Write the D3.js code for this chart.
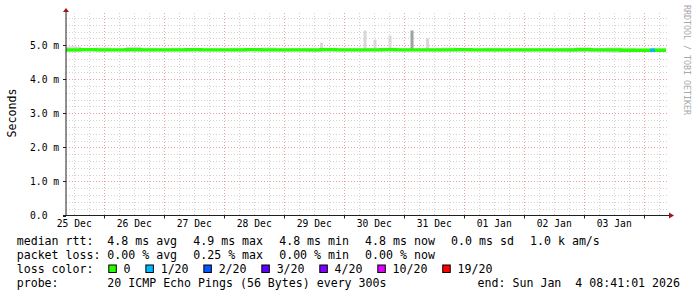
<!DOCTYPE html>
<html>
<head>
<meta charset="utf-8">
<script src="https://cdn.jsdelivr.net/npm/d3@7"></script>
<style>
  body { margin: 0; background: #fff; }
  svg text { font-family: "DejaVu Sans Mono", monospace; white-space: pre; }
</style>
</head>
<body>
<script>
// Time range of the graph (UTC)
var startTime = "2025-12-25T08:41:01Z";
var endTime = "2026-01-04T08:41:01Z";

// Median rtt in ms, one value per 6 hour step from the start
var medianMs = [4.86, 4.87, 4.86, 4.86, 4.87, 4.86, 4.86, 4.86, 4.87, 4.86,
                4.86, 4.86, 4.87, 4.86, 4.86, 4.86, 4.86, 4.87, 4.86, 4.86,
                4.86, 4.87, 4.86, 4.86, 4.86, 4.86, 4.87, 4.86, 4.86, 4.86,
                4.86, 4.86, 4.86, 4.86, 4.87, 4.86, 4.86, 4.85, 4.85, 4.85];

// Smoke (spread of the 20 pings), highest and lowest ms per step
var smokeHiMs = [4.96, 4.91, 4.93, 4.90, 4.95, 4.92, 4.91, 4.92, 4.90, 4.91,
                 4.90, 4.92, 4.91, 4.93, 4.90, 4.91, 4.90, 4.92, 4.91, 4.90,
                 4.91, 4.92, 4.91, 4.90, 4.91, 4.93, 4.91, 4.90, 4.92, 4.90,
                 4.91, 4.90, 4.90, 4.92, 4.94, 4.91, 4.93, 4.92, 4.90, 4.92];
var smokeLoMs = [4.80, 4.82, 4.81, 4.82, 4.80, 4.81, 4.82, 4.82, 4.81, 4.82,
                 4.82, 4.81, 4.82, 4.82, 4.81, 4.82, 4.80, 4.81, 4.82, 4.81,
                 4.82, 4.81, 4.82, 4.82, 4.81, 4.82, 4.81, 4.82, 4.81, 4.82,
                 4.81, 4.82, 4.81, 4.79, 4.80, 4.79, 4.78, 4.79, 4.80, 4.81];

// Single tall smoke spikes
var spikeTimes = ["2025-12-29T14:17:00Z", "2025-12-30T07:41:00Z", "2025-12-30T11:41:00Z",
                  "2025-12-30T17:41:00Z", "2025-12-31T02:29:00Z", "2025-12-31T08:41:00Z"];
var spikeTopMs = [5.07, 5.43, 5.16, 5.28, 5.43, 5.20];
var spikePings = [1, 1, 1, 1, 4, 1];

// Packet loss events drawn on the median line
var lossStart = ["2026-01-04T02:17:00Z"];
var lossEnd = ["2026-01-04T04:17:00Z"];
var lossPings = [1];

// Loss colour classes
var lossLabels = ["0", "1/20", "2/20", "3/20", "4/20", "10/20", "19/20"];
var lossLimits = [0, 1, 2, 3, 4, 10, 19];
var lossColors = ["#26ff00", "#00b8ff", "#0059ff", "#5e00ff", "#7e00ff", "#dd00ff", "#ff0000"];

// Axis ticks
var yTicks = [0, 1, 2, 3, 4, 5];
var yTickLabels = ["0.0", "1.0 m", "2.0 m", "3.0 m", "4.0 m", "5.0 m"];

// Legend texts
var rttStats = ["4.8 ms avg", "4.9 ms max", "4.8 ms min", "4.8 ms now", "0.0 ms sd", "1.0 k am/s"];
var lossStats = ["0.00 % avg", "0.25 % max", "0.00 % min", "0.00 % now"];
var probeText = "20 ICMP Echo Pings (56 Bytes) every 300s";
var endText = "end: Sun Jan  4 08:41:01 2026";

// SVG area
var svgWidth = 697;
var svgHeight = 297;

var plotLeft = 66;
var plotRight = 666;
var plotTop = 13;
var plotBottom = 215.5;

var svg = d3.select("body")
  .append("svg")
  .attr("width", svgWidth)
  .attr("height", svgHeight);

var t0 = new Date(startTime);
var t1 = new Date(endTime);

var xScale = d3.scaleUtc()
  .domain([t0, t1])
  .range([plotLeft, plotRight]);

var yScale = d3.scaleLinear()
  .domain([0, 5.943])
  .range([plotBottom, plotTop]);

// ---- grid ----
var grid = svg.append("g");

var minorY = d3.range(1, 30).map(i => i * 0.2).filter((v, i) => (i + 1) % 5 != 0);
grid.selectAll(".hminor")
  .data(minorY)
  .enter()
  .append("line")
  .attr("x1", plotLeft)
  .attr("x2", plotRight + 2)
  .attr("y1", d => Math.round(yScale(d)) + 0.5)
  .attr("y2", d => Math.round(yScale(d)) + 0.5)
  .attr("stroke", "#d2d2d2")
  .attr("stroke-dasharray", "1,2");

var minorX = d3.utcHour.every(6).range(t0, t1).filter(d => d.getUTCHours() != 0);
grid.selectAll(".vminor")
  .data(minorX)
  .enter()
  .append("line")
  .attr("x1", d => Math.round(xScale(d)) + 0.5)
  .attr("x2", d => Math.round(xScale(d)) + 0.5)
  .attr("y1", plotTop)
  .attr("y2", plotBottom)
  .attr("stroke", "#d2d2d2")
  .attr("stroke-dasharray", "1,2");

grid.selectAll(".hmajor")
  .data(yTicks.slice(1))
  .enter()
  .append("line")
  .attr("x1", plotLeft)
  .attr("x2", plotRight + 2)
  .attr("y1", d => Math.round(yScale(d)) + 0.5)
  .attr("y2", d => Math.round(yScale(d)) + 0.5)
  .attr("stroke", "#eba0a0")
  .attr("stroke-dasharray", "1,2");

var days = d3.utcDay.range(t0, t1);
grid.selectAll(".vmajor")
  .data(days)
  .enter()
  .append("line")
  .attr("x1", d => Math.round(xScale(d)) + 0.5)
  .attr("x2", d => Math.round(xScale(d)) + 0.5)
  .attr("y1", plotTop)
  .attr("y2", plotBottom)
  .attr("stroke", "#eba0a0")
  .attr("stroke-dasharray", "1,2");

// ---- smoke ----
var steps = medianMs.map((m, i) => ({
  t: d3.utcHour.offset(t0, i * 6),
  m: m,
  hi: smokeHiMs[i],
  lo: smokeLoMs[i]
}));
steps.push(Object.assign({}, steps[steps.length - 1], { t: t1 }));

var smokeArea = d3.area()
  .curve(d3.curveStepAfter)
  .x(d => xScale(d.t))
  .y0(d => yScale(d.lo))
  .y1(d => yScale(d.hi));

svg.append("path")
  .datum(steps)
  .attr("d", smokeArea)
  .attr("fill", "#dadada");

var spikeShade = d3.scaleLinear().domain([1, 4]).range(["#d8d8d8", "#a0a0a0"]);

svg.selectAll(".spike")
  .data(spikeTimes)
  .enter()
  .append("rect")
  .attr("class", "spike")
  .attr("x", d => xScale(new Date(d)))
  .attr("width", d => xScale(d3.utcMinute.offset(new Date(d), 72)) - xScale(new Date(d)))
  .attr("y", (d, i) => yScale(spikeTopMs[i]))
  .attr("height", (d, i) => yScale(4.88) - yScale(spikeTopMs[i]))
  .attr("fill", (d, i) => spikeShade(spikePings[i]));

// ---- median line ----
var medianLine = d3.line()
  .curve(d3.curveStepAfter)
  .x(d => xScale(d.t))
  .y(d => yScale(d.m));

svg.append("path")
  .datum(steps)
  .attr("d", medianLine)
  .attr("fill", "none")
  .attr("stroke", lossColors[0])
  .attr("stroke-width", 3.3);

function lossColor(p) {
  var idx = 0;
  lossLimits.forEach((l, i) => { if (p >= l) idx = i; });
  return lossColors[idx];
}

svg.selectAll(".loss")
  .data(lossStart)
  .enter()
  .append("line")
  .attr("x1", d => xScale(new Date(d)))
  .attr("x2", (d, i) => xScale(new Date(lossEnd[i])))
  .attr("y1", d => yScale(medianMs[Math.floor((new Date(d) - t0) / 216e5)]))
  .attr("y2", d => yScale(medianMs[Math.floor((new Date(d) - t0) / 216e5)]))
  .attr("stroke", (d, i) => lossColor(lossPings[i]))
  .attr("stroke-width", 3.3);

// ---- axes ----
var axisColor = "#202020";
var arrowColor = "#9a1818";

svg.append("line")
  .attr("x1", plotLeft).attr("x2", plotLeft)
  .attr("y1", plotTop - 1).attr("y2", plotBottom)
  .attr("stroke", axisColor);

svg.append("line")
  .attr("x1", plotLeft - 3).attr("x2", plotRight + 4)
  .attr("y1", plotBottom).attr("y2", plotBottom)
  .attr("stroke", axisColor);

// arrows
svg.append("path")
  .attr("d", `M${plotLeft - 3},${plotTop - 1}L${plotLeft + 3},${plotTop - 1}L${plotLeft},${plotTop - 5}Z`)
  .attr("fill", arrowColor);

svg.append("path")
  .attr("d", `M${plotRight + 3},${plotBottom - 3}L${plotRight + 3},${plotBottom + 3}L${plotRight + 8},${plotBottom}Z`)
  .attr("fill", arrowColor);

// tick marks
svg.selectAll(".xtick")
  .data(days)
  .enter()
  .append("line")
  .attr("x1", d => Math.round(xScale(d)) + 0.5)
  .attr("x2", d => Math.round(xScale(d)) + 0.5)
  .attr("y1", plotBottom)
  .attr("y2", plotBottom + 3)
  .attr("stroke", axisColor);

svg.selectAll(".ytick")
  .data(yTicks)
  .enter()
  .append("line")
  .attr("x1", plotLeft - 3)
  .attr("x2", plotLeft)
  .attr("y1", d => Math.round(yScale(d)) + 0.5)
  .attr("y2", d => Math.round(yScale(d)) + 0.5)
  .attr("stroke", axisColor);

// tick labels
svg.selectAll(".ylabel")
  .data(yTicks)
  .enter()
  .append("text")
  .attr("x", 30)
  .attr("y", d => yScale(d) + 3.5)
  .attr("font-size", "9.7px")
  .attr("fill", "#000")
  .text((d, i) => yTickLabels[i]);

// day labels sit at noon
var labelTimes = d3.utcDay.range(d3.utcDay.floor(t0), t1)
  .map(d => d3.utcHour.offset(d, 12))
  .filter(d => d >= t0 && d <= t1);

svg.selectAll(".xlabel")
  .data(labelTimes)
  .enter()
  .append("text")
  .attr("x", d => xScale(d))
  .attr("y", 227.3)
  .attr("text-anchor", "middle")
  .attr("font-size", "9.7px")
  .attr("fill", "#000")
  .text(d => d3.utcFormat("%d %b")(d));

// axis title and watermark
svg.append("text")
  .attr("transform", "translate(15.5, 113) rotate(-90)")
  .attr("text-anchor", "middle")
  .attr("font-size", "11.6px")
  .text("Seconds");

svg.append("text")
  .attr("transform", "translate(684, 5) rotate(90)")
  .attr("font-size", "8.3px")
  .attr("fill", "#a8a8a8")
  .text("RRDTOOL / TOBI OETIKER");

// ---- legend ----
var legendX = 16.7;
var valueX = 107.3;
var charW = 6.97;
var rowY = [245, 259, 273.3, 287.3];
var legend = svg.append("g").attr("font-size", "11.6px").attr("fill", "#000");

function statRow(items, y) {
  var x = valueX;
  items.forEach(function(s) {
    legend.append("text").attr("x", x).attr("y", y).text(s);
    x += (s.length + 2) * charW + 2.3;
  });
}

legend.append("text").attr("x", legendX).attr("y", rowY[0]).text("median rtt:");
statRow(rttStats, rowY[0]);

legend.append("text").attr("x", legendX).attr("y", rowY[1]).text("packet loss:");
statRow(lossStats, rowY[1]);

legend.append("text").attr("x", legendX).attr("y", rowY[2]).text("loss color:");
var bx = 108.3;
lossLabels.forEach(function(lbl, i) {
  legend.append("rect")
    .attr("x", bx + 0.5)
    .attr("y", rowY[2] - 8.3)
    .attr("width", 7.5)
    .attr("height", 7.5)
    .attr("fill", lossColors[i])
    .attr("stroke", "#000");
  legend.append("text").attr("x", bx + 15.3).attr("y", rowY[2]).text(lbl);
  bx += 15.3 + lbl.length * charW + 14.8;
});

legend.append("text").attr("x", legendX).attr("y", rowY[3]).text("probe:");
legend.append("text").attr("x", valueX).attr("y", rowY[3]).text(probeText);
legend.append("text").attr("x", 680).attr("y", rowY[3]).attr("text-anchor", "end").text(endText);
</script>
</body>
</html>
